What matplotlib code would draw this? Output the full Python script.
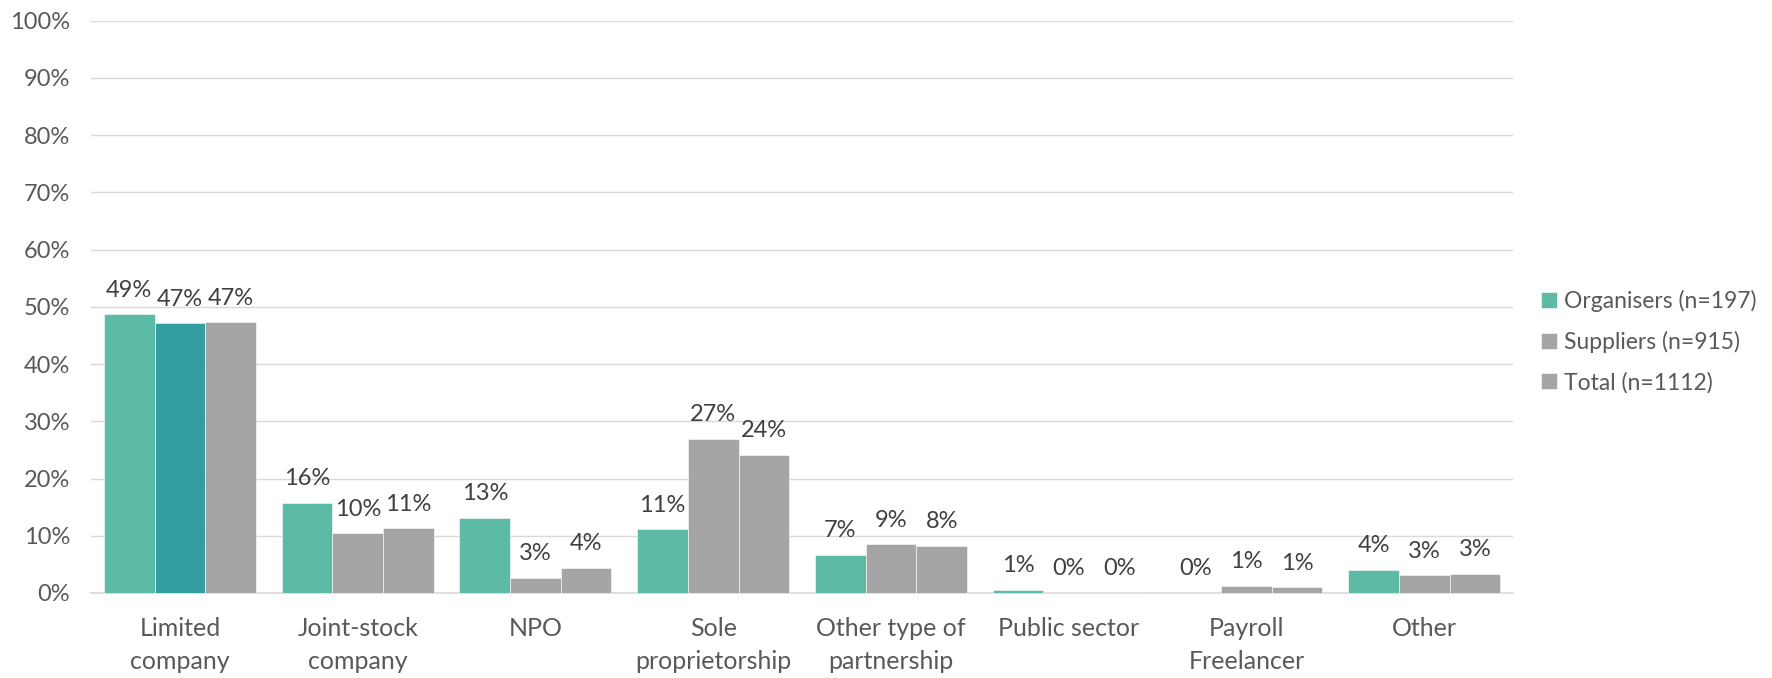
import matplotlib
matplotlib.use("Agg")
import matplotlib.pyplot as plt
import numpy as np

plt.rcParams['font.family'] = ['Lato', 'DejaVu Sans']

categories = ['Limited\ncompany', 'Joint-stock\ncompany', 'NPO', 'Sole\nproprietorship',
              'Other type of\npartnership', 'Public sector', 'Payroll\nFreelancer', 'Other']
series = ['Organisers (n=197)', 'Suppliers (n=915)', 'Total (n=1112)']
organisers = [48.7, 15.7, 13.1, 11.1, 6.6, 0.5, 0.0, 4.0]
suppliers = [47.1, 10.4, 2.6, 26.9, 8.5, 0.1, 1.2, 3.1]
total = [47.3, 11.3, 4.4, 24.1, 8.2, 0.1, 1.0, 3.3]
labels = [
    ['49%', '16%', '13%', '11%', '7%', '1%', '0%', '4%'],
    ['47%', '10%', '3%', '27%', '9%', '0%', '1%', '3%'],
    ['47%', '11%', '4%', '24%', '8%', '0%', '1%', '3%'],
]

teal = '#5DBBA5'
gray = '#A5A5A5'
supplier_colors = ['#339DA2'] + [gray] * 7

fig = plt.figure(figsize=(17.72, 6.78), dpi=100)
ax = fig.add_axes([0.0514, 0.1254, 0.8025, 0.844])

x = np.arange(len(categories))
w = 0.285
data = [organisers, suppliers, total]
colors = [[teal] * 8, supplier_colors, [gray] * 8]
handles = []
for i, (vals, cols) in enumerate(zip(data, colors)):
    bars = ax.bar(x + (i - 1) * w, vals, w, color=cols, edgecolor='white', linewidth=0.4,
                  zorder=3)
    handles.append(bars[0] if i != 1 else bars[1])
    for b, lab in zip(bars, labels[i]):
        ax.text(b.get_x() + b.get_width() / 2, b.get_height() + 2.4, lab,
                ha='center', va='bottom', fontsize=17, color='#404040')

ax.set_ylim(0, 100)
ax.set_xlim(-0.5, len(categories) - 0.5)
ax.set_yticks(np.arange(0, 101, 10))
ax.set_yticklabels([f'{v}%' for v in range(0, 101, 10)])
ax.set_xticks(x)
ax.set_xticklabels(categories)
ax.tick_params(axis='both', length=0, colors='#595959')
ax.tick_params(axis='x', pad=17, labelsize=18)
ax.tick_params(axis='y', pad=15, labelsize=17)
for lbl in ax.get_xticklabels():
    lbl.set_linespacing(1.55)
ax.grid(axis='y', color='#D9D9D9', linewidth=1, zorder=0)
for s in ['top', 'right', 'left']:
    ax.spines[s].set_visible(False)
ax.spines['bottom'].set_color('#D9D9D9')
ax.spines['bottom'].set_linewidth(1.2)

leg = fig.legend(handles, series, loc='center left', bbox_to_anchor=(0.858, 0.496),
                 frameon=False, fontsize=16.5, handlelength=0.7, handleheight=0.7,
                 handletextpad=0.3, labelspacing=0.82, labelcolor='#595959')

fig.savefig('out.png', dpi=100)
